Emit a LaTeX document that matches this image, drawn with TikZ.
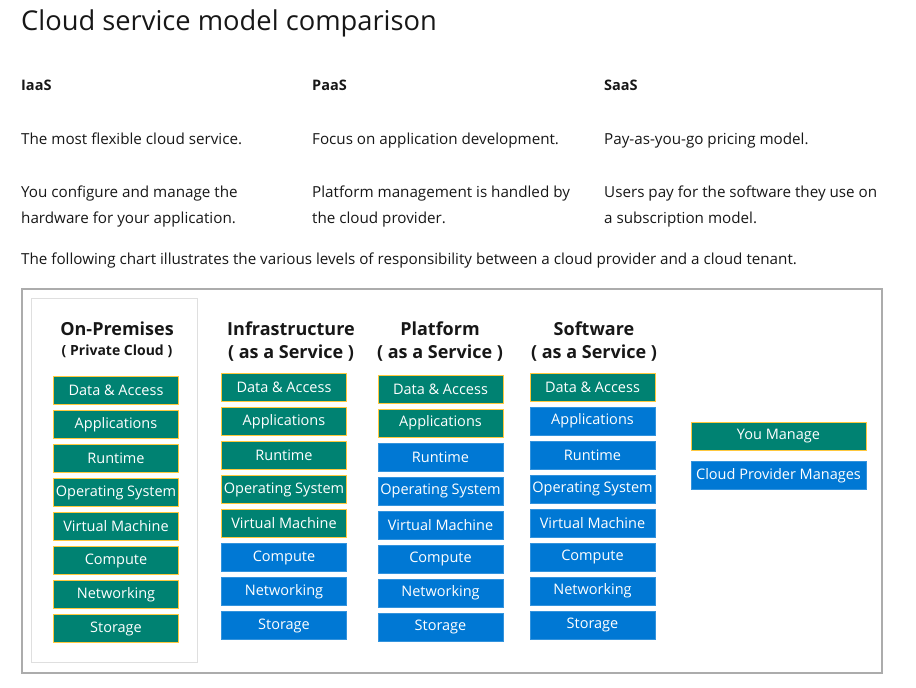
\documentclass[tikz,border=0pt]{standalone}
\usepackage{fontspec}
\setmainfont{Open Sans}
\usepackage{xcolor}

\definecolor{youmanage}{HTML}{008272}
\definecolor{provider}{HTML}{0078D4}
\definecolor{goldline}{HTML}{FFC83D}
\definecolor{inktext}{HTML}{171717}

\tikzset{
	you/.style={draw=goldline, fill=youmanage, line width=1pt, text=white, minimum width=125pt, minimum height=28pt, inner sep=0pt, font=\fontsize{14.5}{16}\selectfont},
	cloud/.style={you, draw=provider!80!white, fill=provider},
	head/.style={font=\bfseries\fontsize{18}{20}\selectfont, text=inktext, inner sep=0pt},
	subhead/.style={font=\bfseries\fontsize{14}{16}\selectfont, text=inktext, inner sep=0pt},
	para/.style={anchor=base west, font=\fontsize{15.2}{17}\selectfont, text=inktext, inner sep=0pt},
}

\begin{document}
\begin{tikzpicture}[x=1pt, y=-1pt]
	\useasboundingbox (0,0) rectangle (916,688);
	
	\node[para, font=\fontsize{27.3}{30}\selectfont] (title) at (21,30) {Cloud service model comparison};
	
	\node[para, font=\bfseries\fontsize{14.5}{16}\selectfont] (iaas) at (21,90) {IaaS};
	\node[para, font=\bfseries\fontsize{14.5}{16}\selectfont] (paas) at (312,90) {PaaS};
	\node[para, font=\bfseries\fontsize{14.5}{16}\selectfont] (saas) at (604,90) {SaaS};
	
	\node[para] (iaas1) at (21,144) {The most flexible cloud service.};
	\node[para] (paas1) at (312,144) {Focus on application development.};
	\node[para] (saas1) at (604,144) {Pay-as-you-go pricing model.};
	
	\node[para] (iaas2) at (21,197) {You configure and manage the};
	\node[para] (iaas3) at (21,223) {hardware for your application.};
	\node[para] (paas2) at (312,197) {Platform management is handled by};
	\node[para] (paas3) at (312,223) {the cloud provider.};
	\node[para] (saas2) at (604,197) {Users pay for the software they use on};
	\node[para] (saas3) at (604,223) {a subscription model.};
	
	\node[para] (intro) at (21,264) {The following chart illustrates the various levels of responsibility between a cloud provider and a cloud tenant.};
	
	\draw[gray!65, line width=1.5pt] (22,289) rectangle (882,673);
	\draw[gray!25, line width=1pt] (31,298) rectangle (197,662);
	
	\node[head] (ophead) at (117,329) {On-Premises};
	\node[subhead] (opsub) at (117,351) {( Private Cloud )};
	\node[head] (iahead) at (291,329) {Infrastructure};
	\node[head] (iasub) at (291,353) {( as a Service )};
	\node[head] (pahead) at (440,329) {Platform};
	\node[head] (pasub) at (440,353) {( as a Service )};
	\node[head] (sahead) at (594,329) {Software};
	\node[head] (sasub) at (594,353) {( as a Service )};
	
	\node[you] (op1) at (116,390.5) {Data \& Access};
	\node[you] (op2) at (116,424.5) {Applications};
	\node[you] (op3) at (116,458.5) {Runtime};
	\node[you] (op4) at (116,492.5) {Operating System};
	\node[you] (op5) at (116,526.5) {Virtual Machine};
	\node[you] (op6) at (116,560.5) {Compute};
	\node[you] (op7) at (116,594.5) {Networking};
	\node[you] (op8) at (116,628.5) {Storage};
	
	\node[you] (ia1) at (284,387.5) {Data \& Access};
	\node[you] (ia2) at (284,421.5) {Applications};
	\node[you] (ia3) at (284,455.5) {Runtime};
	\node[you] (ia4) at (284,489.5) {Operating System};
	\node[you] (ia5) at (284,523.5) {Virtual Machine};
	\node[cloud] (ia6) at (284,557.5) {Compute};
	\node[cloud] (ia7) at (284,591.5) {Networking};
	\node[cloud] (ia8) at (284,625.5) {Storage};
	
	\node[you] (pa1) at (440.5,389) {Data \& Access};
	\node[you] (pa2) at (440.5,423) {Applications};
	\node[cloud] (pa3) at (440.5,457) {Runtime};
	\node[cloud] (pa4) at (440.5,491) {Operating System};
	\node[cloud] (pa5) at (440.5,525) {Virtual Machine};
	\node[cloud] (pa6) at (440.5,559) {Compute};
	\node[cloud] (pa7) at (440.5,593) {Networking};
	\node[cloud] (pa8) at (440.5,627) {Storage};
	
	\node[you] (sa1) at (592.5,387) {Data \& Access};
	\node[cloud] (sa2) at (592.5,421) {Applications};
	\node[cloud] (sa3) at (592.5,455) {Runtime};
	\node[cloud] (sa4) at (592.5,489) {Operating System};
	\node[cloud] (sa5) at (592.5,523) {Virtual Machine};
	\node[cloud] (sa6) at (592.5,557) {Compute};
	\node[cloud] (sa7) at (592.5,591) {Networking};
	\node[cloud] (sa8) at (592.5,625) {Storage};
	
	\node[you, minimum width=175pt] (youkey) at (778.5,436) {You Manage};
	\node[cloud, minimum width=175pt] (cloudkey) at (778.5,475.5) {Cloud Provider Manages};
\end{tikzpicture}
\end{document}
